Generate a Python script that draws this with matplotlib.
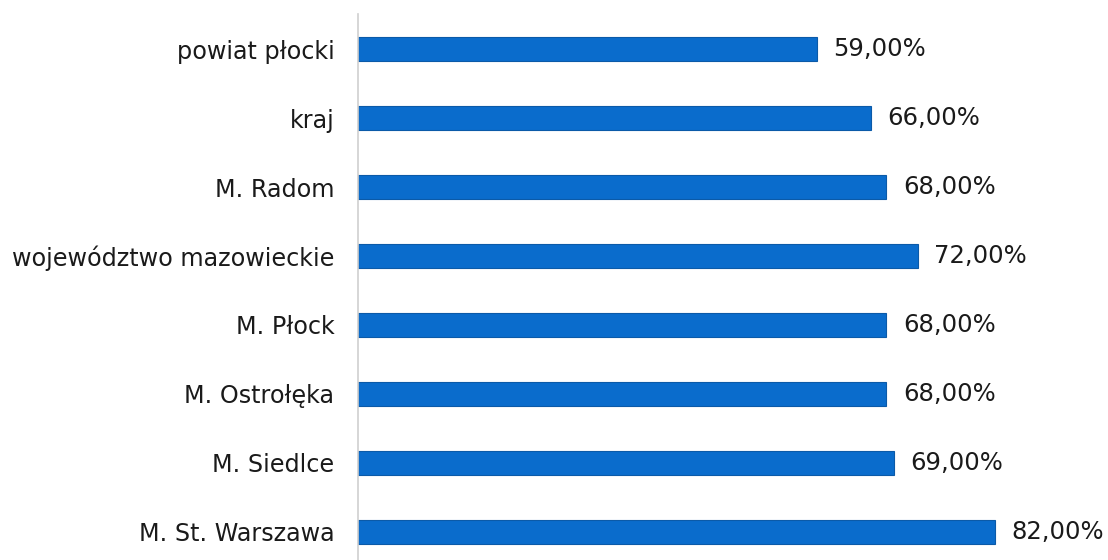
import matplotlib
matplotlib.use("Agg")
import matplotlib.pyplot as plt

categories = ["powiat płocki", "kraj", "M. Radom", "województwo mazowieckie",
              "M. Płock", "M. Ostrołęka", "M. Siedlce", "M. St. Warszawa"]
values = [59, 66, 68, 72, 68, 68, 69, 82]

plt.rcParams['font.family'] = ['DejaVu Sans']

fig = plt.figure(figsize=(11.08, 5.6), dpi=100)
ax = fig.add_axes([358 / 1108, 0, 1 - 358 / 1108, (560 - 14) / 560])

pos = list(range(len(categories)))
ax.barh(pos, values, height=0.35, color='#0a6ccc', edgecolor='#0b5aa8', linewidth=0.8)

for p, v in zip(pos, values):
    ax.text(v + 2.1, p, f"{v:.2f}".replace(".", ",") + "%", va='center', ha='left',
            fontsize=17.5, color='#1a1a1a')

ax.set_yticks(pos)
ax.set_yticklabels(categories, fontsize=17.2, color='#1a1a1a')
ax.tick_params(axis='y', length=0, pad=17)
ax.set_xticks([])
ax.set_xlim(0, 96.5)
ax.set_ylim(7.41, -0.51)

for s in ['top', 'right', 'bottom']:
    ax.spines[s].set_visible(False)
ax.spines['left'].set_color('#cfcfcf')
ax.spines['left'].set_linewidth(1.2)

fig.savefig("out.png", dpi=100)
